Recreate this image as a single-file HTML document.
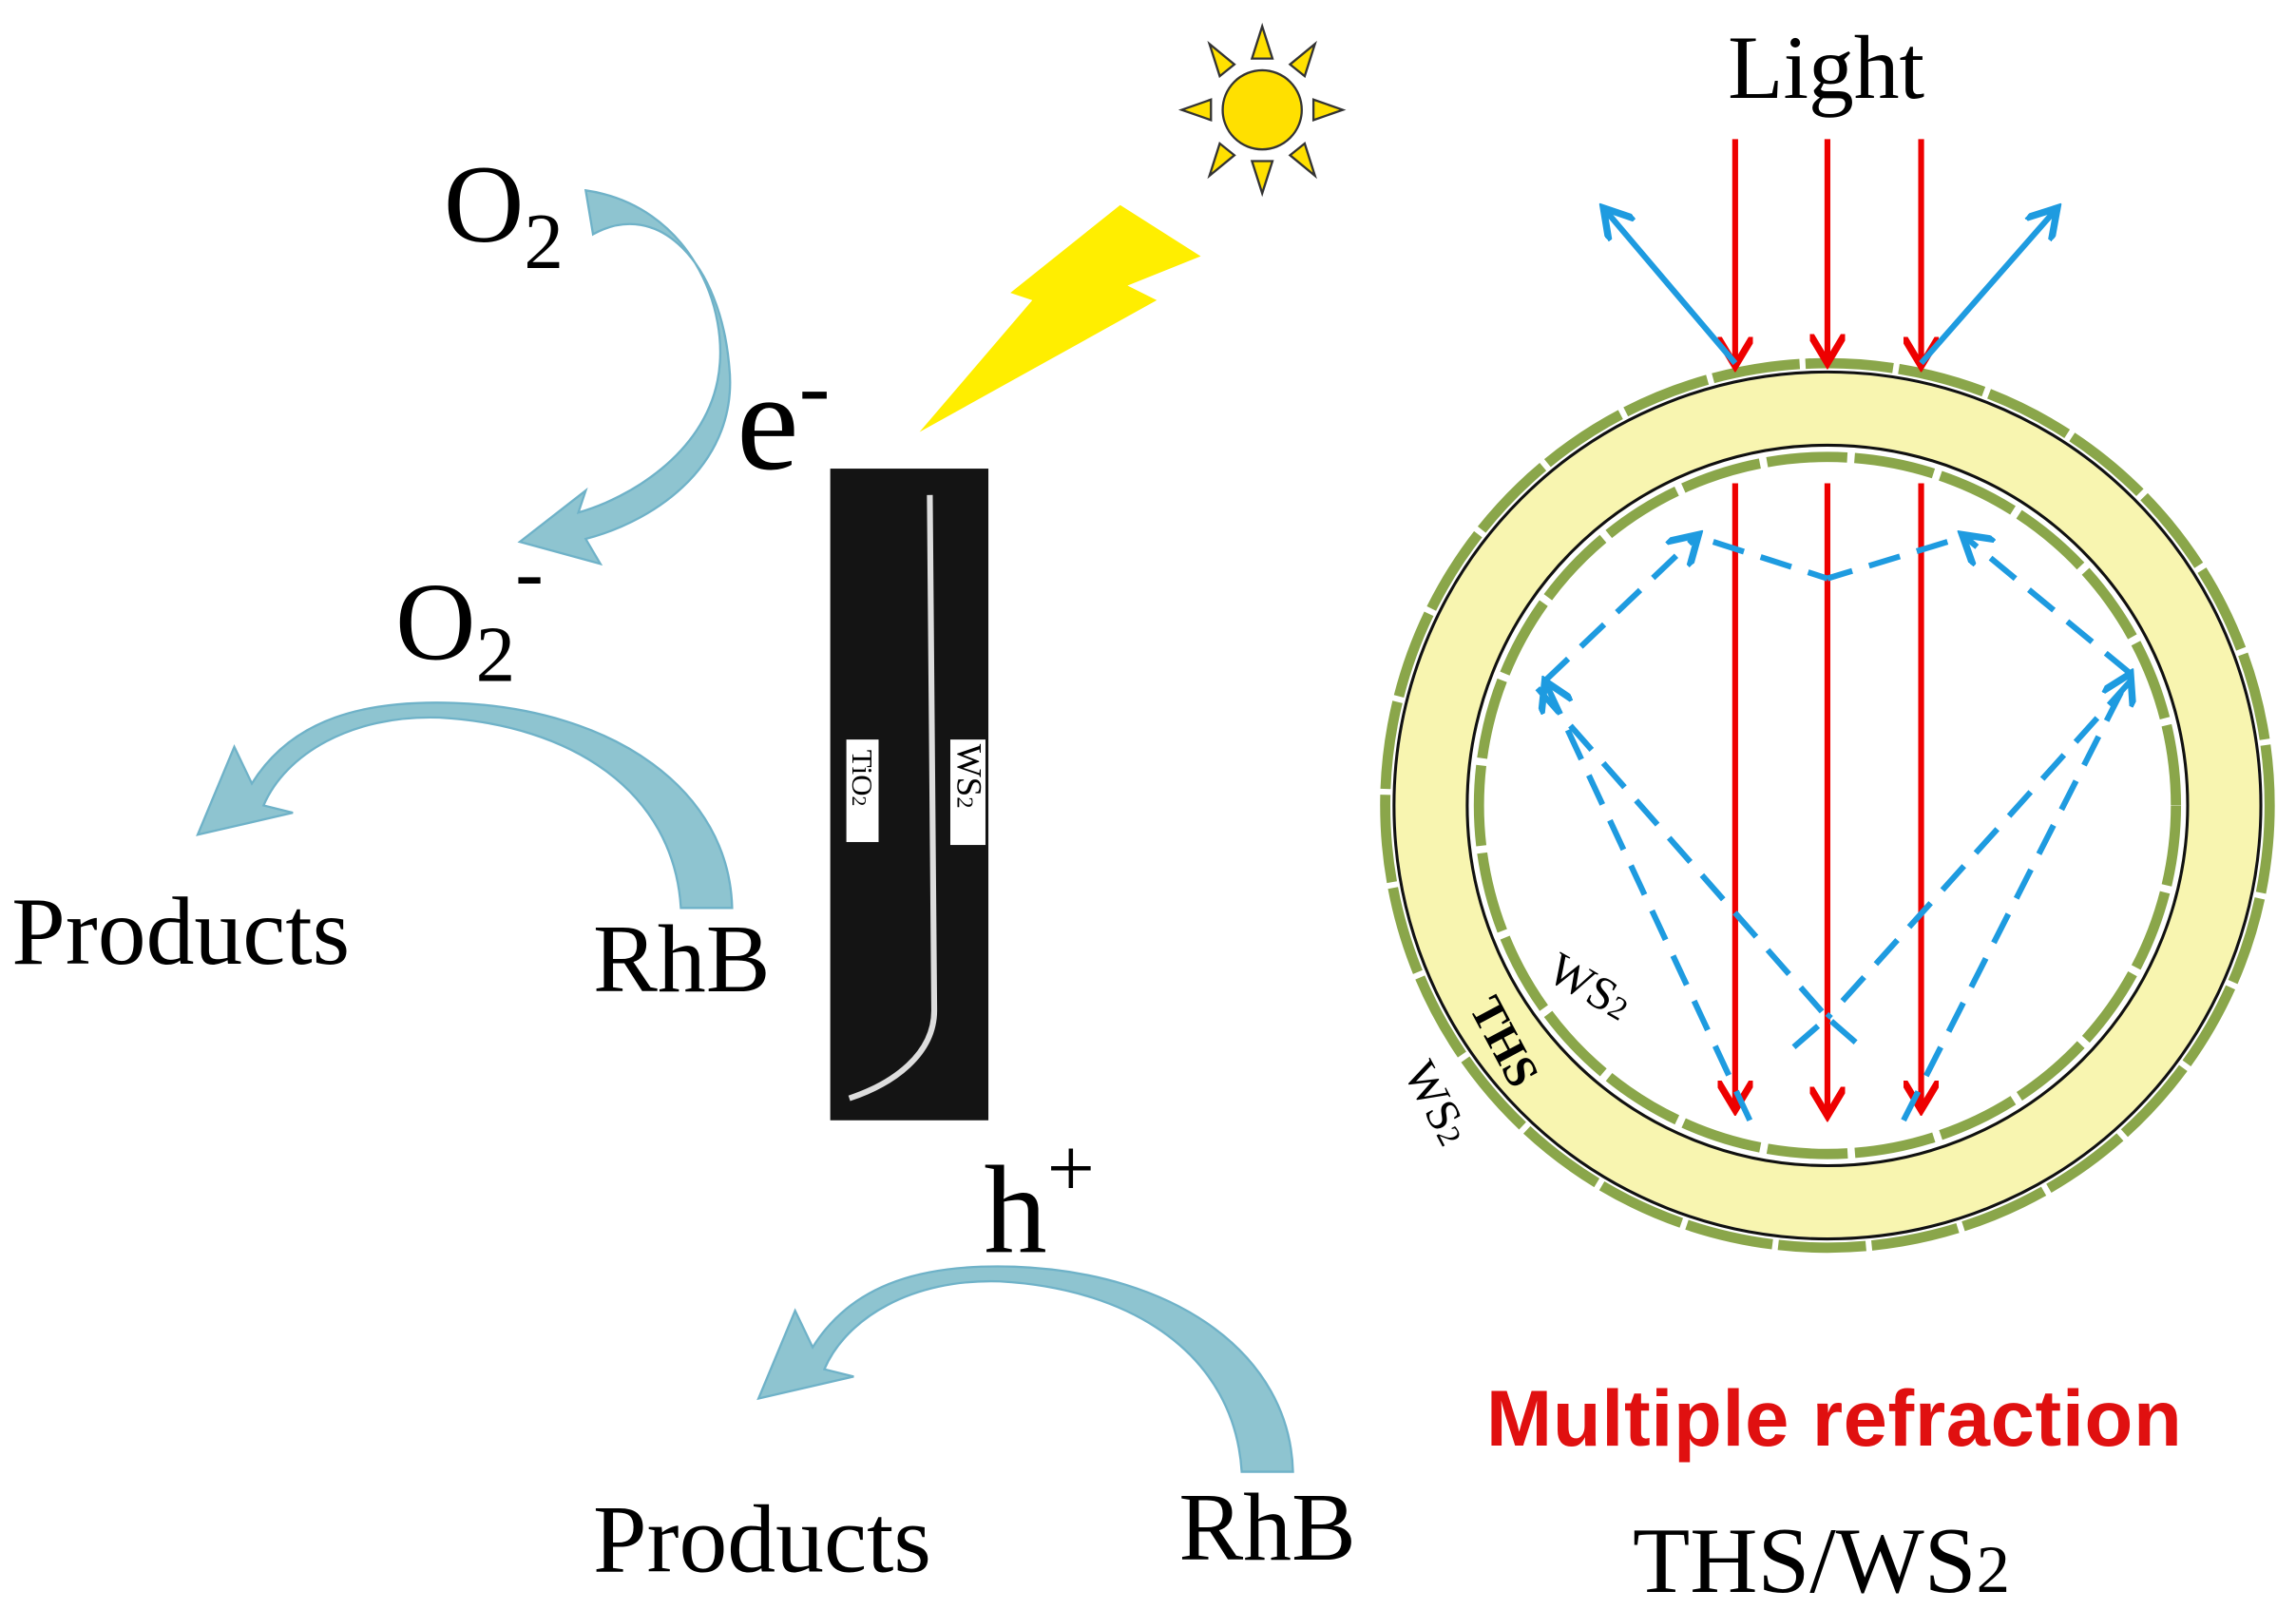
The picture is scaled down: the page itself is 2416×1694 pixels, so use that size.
<!DOCTYPE html>
<html><head><style>
html,body{margin:0;padding:0;background:#fff;}
svg{display:block;}
text{font-family:"Liberation Serif",serif;fill:#000;}
</style></head><body>
<svg width="2416" height="1694" viewBox="0 0 1568 1099.4" preserveAspectRatio="none" xmlns="http://www.w3.org/2000/svg">
<defs>
<marker id="ra" markerWidth="6" markerHeight="6" refX="5" refY="3" orient="auto" markerUnits="strokeWidth"><path d="M0,0 L5,3 L0,6" fill="none" stroke="#e00" stroke-width="1.2"/></marker>
<marker id="ba" markerWidth="6" markerHeight="6" refX="5" refY="3" orient="auto" markerUnits="strokeWidth"><path d="M0,0 L5,3 L0,6" fill="none" stroke="#1e9be0" stroke-width="1.2"/></marker>
</defs>
<g fill="#8ec4d0" stroke="#6fb2c8" stroke-width="1.5">
<path d="M400,130 C470,140 500,210 490,260 C480,310 430,340 395,350 L400,335 L355,370 L410,385 L400,368 C450,355 505,315 498,250 C492,180 450,135 405,160 Z"/>
<path d="M500,620 L465,620 C460,540 390,495 300,490 C240,488 195,515 180,550 L200,555 L135,570 L160,510 L172,535 C200,490 250,478 310,480 C420,484 498,540 500,620 Z"/>
<path d="M883,1005 L848,1005 C843,925 773,880 683,875 C623,873 578,900 563,935 L583,940 L518,955 L543,895 L555,920 C583,875 633,863 693,865 C803,869 881,925 883,1005 Z"/>
</g>
<text x="303" y="165" font-size="76">O<tspan font-size="54" dy="18">2</tspan></text>
<text x="503" y="320" font-size="96">e<tspan font-size="64" dy="-35">-</tspan></text>
<text x="270" y="450" font-size="76">O<tspan font-size="54" dy="15">2</tspan><tspan font-size="58" dy="-55">-</tspan></text>
<text x="8" y="658" font-size="66">Products</text>
<text x="405" y="677" font-size="66">RhB</text>
<text x="672" y="855" font-size="86">h<tspan font-size="58" dy="-38">+</tspan></text>
<text x="405" y="1073" font-size="66">Products</text>
<text x="805" y="1065" font-size="66">RhB</text>
<rect x="567" y="320" width="108" height="445" fill="#141414"/>
<path d="M635,338 L638,690 C638,720 610,740 580,750" fill="none" stroke="#ddd" stroke-width="4"/>
<rect x="578" y="505" width="22" height="70" fill="#fff"/>
<text transform="translate(582,512) rotate(90)" font-size="20">TiO<tspan font-size="14">2</tspan></text>
<rect x="649" y="505" width="24" height="72" fill="#fff"/>
<text transform="translate(654,508) rotate(90)" font-size="24">WS<tspan font-size="16">2</tspan></text>
<polygon points="628,295 705,205 690,200 765,140 820,175 770,195 790,205" fill="#ffee00"/>
<g fill="#ffe000" stroke="#333" stroke-width="1.5">
<circle cx="862" cy="75" r="27"/>
<polygon points="855,40 869,40 862,18"/><polygon points="855,110 869,110 862,132"/>
<polygon points="827,68 827,82 807,75"/><polygon points="897,68 897,82 917,75"/>
<polygon points="833,52 843,44 826,30"/><polygon points="891,52 881,44 898,30"/>
<polygon points="833,98 843,106 826,120"/><polygon points="891,98 881,106 898,120"/>
</g>
<text x="1180" y="67" font-size="62">Light</text>
<circle cx="1248" cy="550" r="270" fill="none" stroke="#f8f5b0" stroke-width="50"/>
<circle cx="1248" cy="550" r="296" fill="none" stroke="#111" stroke-width="2"/>
<circle cx="1248" cy="550" r="246" fill="none" stroke="#111" stroke-width="2"/>
<circle cx="1248" cy="550" r="302" fill="none" stroke="#8aa64a" stroke-width="7" stroke-dasharray="60 4"/>
<circle cx="1248" cy="550" r="238" fill="none" stroke="#8aa64a" stroke-width="7" stroke-dasharray="55 5"/>
<g stroke="#e00" stroke-width="4" fill="none" marker-end="url(#ra)">
<line x1="1185" y1="95" x2="1185" y2="250"/><line x1="1248" y1="95" x2="1248" y2="248"/><line x1="1312" y1="95" x2="1312" y2="250"/>
<line x1="1185" y1="330" x2="1185" y2="758"/><line x1="1248" y1="330" x2="1248" y2="762"/><line x1="1312" y1="330" x2="1312" y2="758"/>
</g>
<g stroke="#1e9be0" stroke-width="4" fill="none" marker-end="url(#ba)">
<line x1="1185" y1="248" x2="1095" y2="142"/><line x1="1312" y1="248" x2="1405" y2="142"/>
</g>
<g stroke="#1e9be0" stroke-width="4" fill="none" stroke-dasharray="22 12">
<line x1="1195" y1="765" x2="1055" y2="465" marker-end="url(#ba)"/>
<line x1="1300" y1="765" x2="1455" y2="460" marker-end="url(#ba)"/>
<line x1="1055" y1="465" x2="1160" y2="365" marker-end="url(#ba)"/>
<line x1="1455" y1="460" x2="1340" y2="365" marker-end="url(#ba)"/>
<line x1="1170" y1="370" x2="1248" y2="395"/><line x1="1330" y1="370" x2="1248" y2="395"/>
<line x1="1050" y1="470" x2="1248" y2="695"/><line x1="1455" y1="465" x2="1248" y2="695"/>
<path d="M1225,715 L1248,695 L1271,715"/>
</g>
<text transform="translate(1055,668) rotate(30)" font-size="32">WS<tspan font-size="22">2</tspan></text>
<text transform="translate(1003,688) rotate(62)" font-size="32" font-weight="bold">THS</text>
<text transform="translate(958,732) rotate(62)" font-size="32">WS<tspan font-size="22">2</tspan></text>
<text x="1015" y="987" font-size="54" font-weight="bold" style="fill:#e01010;font-family:'Liberation Sans',sans-serif" textLength="475">Multiple refraction</text>
<text x="1115" y="1087" font-size="64">THS/WS<tspan font-size="46">2</tspan></text>
</svg>
</body></html>
